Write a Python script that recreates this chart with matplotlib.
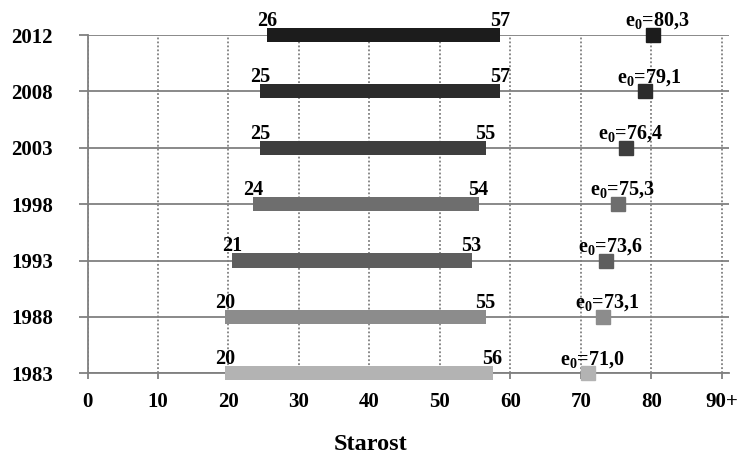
import matplotlib
matplotlib.use("Agg")
import matplotlib.pyplot as plt
from matplotlib.transforms import ScaledTranslation

years = ["1983", "1988", "1993", "1998", "2003", "2008", "2012"]
start_age = [20, 20, 21, 24, 25, 25, 26]
end_age = [56, 55, 53, 54, 55, 57, 57]
e0 = [71.0, 73.1, 73.6, 75.3, 76.4, 79.1, 80.3]
e0_labels = ["71,0", "73,1", "73,6", "75,3", "76,4", "79,1", "80,3"]
x_ticks = [0, 10, 20, 30, 40, 50, 60, 70, 80, 90]
x_ticklabels = ["0", "10", "20", "30", "40", "50", "60", "70", "80", "90+"]
colors = ["#b3b3b3", "#8c8c8c", "#5e5e5e", "#6e6e6e", "#3e3e3e", "#2b2b2b", "#1c1c1c"]

plt.rcParams["font.family"] = ["Liberation Serif", "DejaVu Serif"]
plt.rcParams["font.weight"] = "bold"
plt.rcParams["mathtext.fontset"] = "custom"
plt.rcParams["mathtext.rm"] = "Liberation Serif:bold"
plt.rcParams["mathtext.it"] = "Liberation Serif:bold"
plt.rcParams["mathtext.bf"] = "Liberation Serif:bold"

grid_col = "#808080"
fig = plt.figure(figsize=(7.44, 4.57), dpi=100)
ax = fig.add_axes([87.5 / 744, 1 - 373.3 / 457, (728.7 - 87.5) / 744, (373.3 - 35) / 457])

pos = list(range(len(years)))
pad = 0.5
bar_h = 0.25
lab_fs = 14.5
for i in pos:
    left = start_age[i] - pad
    right = end_age[i] + 1 + pad
    ax.barh(i, right - left, left=left, height=bar_h, color=colors[i],
            zorder=3, clip_on=False)
    ax.annotate(str(start_age[i]), (left, i + bar_h / 2), xytext=(0, 1.5),
                textcoords="offset points", ha="center", va="baseline",
                fontsize=lab_fs, fontweight="bold", zorder=5, annotation_clip=False)
    ax.annotate(str(end_age[i]), (right, i + bar_h / 2), xytext=(0, 1.5),
                textcoords="offset points", ha="center", va="baseline",
                fontsize=lab_fs, fontweight="bold", zorder=5, annotation_clip=False)
    ax.plot(e0[i], i, marker="s", markersize=10, color=colors[i],
            linestyle="none", zorder=4, clip_on=False)
    ax.annotate("e$_0$=" + e0_labels[i], (e0[i], i + bar_h / 2), xytext=(3, 1.5),
                textcoords="offset points", ha="center", va="baseline",
                fontsize=lab_fs, fontweight="bold", zorder=5, annotation_clip=False)

ax.set_xlim(0, 91)
ax.set_ylim(0, len(years) - 1)
ax.set_xticks(x_ticks)
ax.set_xticklabels(x_ticklabels, fontsize=15, fontweight="bold")
ax.set_yticks(pos)
ax.set_yticklabels(years, fontsize=15, fontweight="bold")

shift = ScaledTranslation(3 / 100, 0, fig.dpi_scale_trans)
for lbl in ax.get_xticklabels():
    lbl.set_transform(lbl.get_transform() + shift)

ax.set_axisbelow(True)
ax.grid(axis="y", color=grid_col, linewidth=1.3, linestyle="-")
ax.grid(axis="x", color=grid_col, linewidth=1.3, linestyle=(0, (1, 1.2)))

for s in ["top", "right"]:
    ax.spines[s].set_visible(False)
for s in ["left", "bottom"]:
    ax.spines[s].set_color(grid_col)
    ax.spines[s].set_linewidth(1.3)

ax.tick_params(axis="y", length=6.5, width=1.3, color=grid_col, pad=18.5)
ax.tick_params(axis="x", length=4.3, width=1.3, color=grid_col, pad=9)

fig.text(370.5 / 744, 0.004, "Starost", ha="center", va="bottom",
         fontsize=17.5, fontweight="bold")

fig.savefig("out.png", dpi=100)
